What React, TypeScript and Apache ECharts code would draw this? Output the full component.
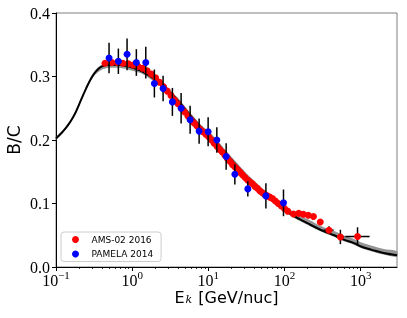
import React, { useEffect, useRef } from 'react';
import * as echarts from 'echarts';

// AMS-02 2016 B/C (kinetic energy per nucleon, GeV/nuc)
const amsE = [0.44, 0.54, 0.64, 0.755, 0.89, 1.03, 1.19, 1.37, 1.57, 1.79, 2.03, 2.29, 2.58, 2.89, 3.23, 3.6, 3.99, 4.42, 4.89, 5.38, 5.9, 6.47, 7.09, 7.76, 8.48, 9.26, 10.1, 11.0, 11.9, 13.0, 14.1, 15.2, 16.5, 17.8, 19.3, 20.8, 22.5, 24.3, 26.2, 28.2, 30.4, 32.7, 35.2, 37.9, 40.8, 43.9, 47.3, 51.1, 55.1, 59.3, 64.1, 69.6, 75.8, 82.8, 90.8, 99.8, 110, 131, 154, 177, 205, 240, 295, 384, 542, 910];
const amsBC = [0.321, 0.322, 0.322, 0.321, 0.32, 0.318, 0.316, 0.313, 0.309, 0.304, 0.298, 0.291, 0.284, 0.277, 0.27, 0.263, 0.257, 0.25, 0.244, 0.238, 0.232, 0.227, 0.222, 0.217, 0.213, 0.209, 0.205, 0.2, 0.195, 0.19, 0.185, 0.181, 0.176, 0.171, 0.166, 0.161, 0.157, 0.153, 0.149, 0.145, 0.141, 0.137, 0.134, 0.131, 0.127, 0.124, 0.12, 0.117, 0.114, 0.112, 0.11, 0.108, 0.104, 0.1, 0.096, 0.092, 0.088, 0.0835, 0.0845, 0.083, 0.0815, 0.0795, 0.071, 0.058, 0.0473, 0.048];
const amsErr = [0.003, 0.003, 0.003, 0.003, 0.003, 0.003, 0.003, 0.003, 0.003, 0.003, 0.003, 0.003, 0.003, 0.003, 0.003, 0.003, 0.003, 0.003, 0.003, 0.003, 0.003, 0.003, 0.003, 0.003, 0.003, 0.003, 0.003, 0.003, 0.003, 0.003, 0.003, 0.003, 0.003, 0.003, 0.003, 0.003, 0.003, 0.003, 0.003, 0.003, 0.003, 0.003, 0.003, 0.003, 0.003, 0.003, 0.003, 0.003, 0.003, 0.003, 0.003, 0.003, 0.003, 0.003, 0.003, 0.003, 0.003, 0.003, 0.003, 0.003, 0.003, 0.003, 0.004, 0.006, 0.0113, 0.0145];
// energy bin edges of the last three AMS-02 points
const amsLastBins = [[325, 441], [488, 608], [628, 1309]];

// PAMELA 2014 B/C
const pamE = [0.497, 0.659, 0.857, 1.135, 1.509, 1.957, 2.547, 3.374, 4.392, 5.766, 7.57, 9.94, 12.93, 17.14, 22.3, 33.0, 57.0, 97.0];
const pamBC = [0.329, 0.324, 0.335, 0.322, 0.322, 0.289, 0.281, 0.26, 0.25, 0.232, 0.214, 0.213, 0.2, 0.174, 0.146, 0.123, 0.112, 0.101];
const pamErr = [0.024, 0.02, 0.025, 0.021, 0.025, 0.022, 0.02, 0.022, 0.024, 0.022, 0.02, 0.023, 0.02, 0.021, 0.016, 0.012, 0.02, 0.021];

// model prediction and its uncertainty band
const modelE = [0.1, 0.118, 0.135, 0.15, 0.166, 0.184, 0.202, 0.225, 0.248, 0.275, 0.303, 0.335, 0.371, 0.41, 0.454, 0.55, 0.7, 0.85, 1.0, 1.3, 1.6, 2.0, 2.5, 3.0, 4.0, 5.0, 6.5, 8.0, 10, 13, 16, 20, 25, 32, 40, 50, 65, 80, 100, 130, 160, 200, 270, 350, 450, 600, 800, 1050, 1400, 2000, 3000];
const modelBC = [0.2024, 0.211, 0.2192, 0.2265, 0.2349, 0.2452, 0.2565, 0.2696, 0.281, 0.2922, 0.301, 0.308, 0.3133, 0.3163, 0.3179, 0.3186, 0.3182, 0.3165, 0.314, 0.309, 0.303, 0.295, 0.286, 0.277, 0.262, 0.248, 0.232, 0.22, 0.209, 0.195, 0.182, 0.169, 0.156, 0.142, 0.131, 0.12, 0.108, 0.099, 0.09, 0.081, 0.075, 0.069, 0.061, 0.055, 0.05, 0.043, 0.038, 0.0315, 0.027, 0.022, 0.0185];
const bandBelow = [0.002, 0.002, 0.002, 0.002, 0.002, 0.002, 0.002, 0.002, 0.002, 0.002, 0.003, 0.004, 0.005, 0.005, 0.005, 0.005, 0.005, 0.005, 0.005, 0.004, 0.004, 0.004, 0.004, 0.004, 0.004, 0.004, 0.004, 0.004, 0.004, 0.003, 0.003, 0.003, 0.003, 0.003, 0.003, 0.003, 0.003, 0.0025, 0.0025, 0.0025, 0.0025, 0.0025, 0.0025, 0.0025, 0.0025, 0.0025, 0.0025, 0.0025, 0.0025, 0.0025, 0.0025];
const bandAbove = [0.002, 0.002, 0.002, 0.002, 0.002, 0.002, 0.002, 0.002, 0.002, 0.002, 0.003, 0.003, 0.003, 0.003, 0.003, 0.003, 0.003, 0.003, 0.003, 0.004, 0.004, 0.004, 0.004, 0.004, 0.004, 0.004, 0.004, 0.004, 0.005, 0.005, 0.005, 0.005, 0.005, 0.005, 0.005, 0.005, 0.0055, 0.006, 0.006, 0.0065, 0.0065, 0.0065, 0.0065, 0.0065, 0.0065, 0.0065, 0.0065, 0.0065, 0.0065, 0.0065, 0.0065];

const xMajorTicks = [0.1, 1, 10, 100, 1000];
const xMinorTicks = [0.2, 0.3, 0.4, 0.5, 0.6, 0.7, 0.8, 0.9, 2, 3, 4, 5, 6, 7, 8, 9, 20, 30, 40, 50, 60, 70, 80, 90, 200, 300, 400, 500, 600, 700, 800, 900, 2000];

const SERIF = 'Liberation Serif';
const SANS = 'DejaVu Sans';

export default function App() {
  const ref = useRef<HTMLDivElement>(null);
  useEffect(() => {
    const chart = echarts.init(ref.current as HTMLDivElement, null, { renderer: 'svg' });
    const nA = amsE.length;
    const amsErrData = amsE.map((e, i) => {
      const k = i - (nA - amsLastBins.length);
      const xl = k >= 0 ? amsLastBins[k][0] : e;
      const xh = k >= 0 ? amsLastBins[k][1] : e;
      return [e, amsBC[i] - amsErr[i], amsBC[i] + amsErr[i], xl, xh, amsBC[i]];
    });
    const pamErrData = pamE.map((e, i) => [e, pamBC[i] - pamErr[i], pamBC[i] + pamErr[i], e, e, pamBC[i]]);
    const errRender = (params: any, api: any) => {
      const x = api.value(0);
      const y = api.value(5);
      const a = api.coord([x, api.value(1)]);
      const b = api.coord([x, api.value(2)]);
      const c = api.coord([api.value(3), y]);
      const d = api.coord([api.value(4), y]);
      const st = { stroke: '#000', lineWidth: 1.5 };
      return {
        type: 'group',
        children: [
          { type: 'line', shape: { x1: a[0], y1: a[1], x2: b[0], y2: b[1] }, style: st },
          { type: 'line', shape: { x1: c[0], y1: c[1], x2: d[0], y2: d[1] }, style: st },
        ],
      };
    };
    const bandRender = (params: any, api: any) => {
      const upper = modelE.map((e, i) => api.coord([e, modelBC[i] + bandAbove[i]]));
      const lower = modelE.map((e, i) => api.coord([e, modelBC[i] - bandBelow[i]])).reverse();
      return {
        type: 'polygon',
        shape: { points: upper.concat(lower), smooth: 0.3 },
        style: { fill: '#8e8e8e', opacity: 0.95 },
      };
    };
    const option: any = {
      animation: false,
      grid: {
        left: 56, top: 13, right: 10, bottom: 51,
        containLabel: false, outerBoundsMode: 'none',
        show: true, borderColor: '#7f7f7f', borderWidth: 1, backgroundColor: 'transparent',
      },
      legend: {
        orient: 'vertical',
        left: 61,
        top: 232,
        padding: [2, 8, 2, 11],
        itemWidth: 22,
        itemHeight: 7,
        itemGap: 3.5,
        icon: 'circle',
        data: ['AMS-02 2016', 'PAMELA 2014'],
        backgroundColor: 'rgba(255,255,255,0.8)',
        borderColor: '#cccccc',
        borderWidth: 1,
        borderRadius: 3,
        textStyle: { fontFamily: SANS, fontSize: 9, color: '#000', lineHeight: 11 },
      },
      xAxis: [
        {
          type: 'log',
          logBase: 10,
          min: 0.1,
          max: 3000,
          position: 'bottom',
          axisLine: { show: true, lineStyle: { color: '#000', width: 1 } },
          axisTick: { show: true, length: 4, lineStyle: { color: '#000', width: 1 }, customValues: xMajorTicks },
          splitLine: { show: false },
          axisLabel: {
            customValues: xMajorTicks,
            margin: 5,
            formatter: (v: number) => {
              const p = Math.round(Math.log10(v));
              return '{b|10}{s|' + (p < 0 ? '\u2212' + -p : String(p)) + '}';
            },
            rich: {
              b: { fontFamily: SERIF, fontSize: 16, color: '#000', lineHeight: 16, verticalAlign: 'bottom' },
              s: { fontFamily: SERIF, fontSize: 11, color: '#000', lineHeight: 11, verticalAlign: 'bottom', padding: [0, 0, 8, 0] },
            },
          },
          name: '{a|E}{k|k}{a| [GeV/nuc]}',
          nameLocation: 'middle',
          nameGap: 22,
          nameMoveOverlap: false,
          nameTextStyle: {
            rich: {
              a: { fontFamily: SANS, fontSize: 16, color: '#000', lineHeight: 16, verticalAlign: 'bottom' },
              k: { fontFamily: 'DejaVu Serif', fontStyle: 'italic', fontSize: 11, color: '#000', lineHeight: 11, verticalAlign: 'bottom', padding: [14, 1, 0, 1] },
            },
          },
        },
        {
          type: 'log',
          logBase: 10,
          min: 0.1,
          max: 3000,
          position: 'bottom',
          axisLine: { show: false },
          axisLabel: { show: false },
          splitLine: { show: false },
          axisTick: { show: true, length: 2, lineStyle: { color: '#000', width: 0.8 }, customValues: xMinorTicks },
        },
      ],
      yAxis: {
        type: 'value',
        min: 0,
        max: 0.4,
        interval: 0.1,
        axisLine: { show: true, lineStyle: { color: '#000', width: 1 } },
        axisTick: { show: true, length: 4, lineStyle: { color: '#000', width: 1 } },
        splitLine: { show: false },
        axisLabel: { fontFamily: SERIF, fontSize: 16, lineHeight: 8, color: '#000', margin: 6, formatter: (v: number) => v.toFixed(1) },
        name: 'B/C',
        nameLocation: 'middle',
        nameGap: 34,
        nameMoveOverlap: false,
        nameTextStyle: { fontFamily: SANS, fontSize: 17, color: '#000' },
      },
      series: [
        { type: 'custom', name: 'band', z: 1, silent: true, renderItem: bandRender, data: [[modelE[0], modelBC[0]]], encode: { x: 0, y: 1 } },
        {
          type: 'line', name: 'model', z: 2, showSymbol: false, symbol: 'none', smooth: 0.4,
          lineStyle: { color: '#000', width: 2 },
          data: modelE.map((e, i) => [e, modelBC[i]]),
        },
        { type: 'custom', name: 'amsErr', z: 3, renderItem: errRender, data: amsErrData, encode: { x: 0, y: 5 } },
        {
          type: 'scatter', name: 'AMS-02 2016', z: 4, symbol: 'circle', symbolSize: 7,
          itemStyle: { color: '#ff0000', opacity: 1 },
          data: amsE.map((e, i) => [e, amsBC[i]]),
        },
        { type: 'custom', name: 'pamErr', z: 5, renderItem: errRender, data: pamErrData, encode: { x: 0, y: 5 } },
        {
          type: 'scatter', name: 'PAMELA 2014', z: 6, symbol: 'circle', symbolSize: 7,
          itemStyle: { color: '#0000ff', opacity: 1 },
          data: pamE.map((e, i) => [e, pamBC[i]]),
        },
      ],
    };
    chart.setOption(option);
    return () => chart.dispose();
  }, []);
  return <div ref={ref} style={{ position: 'fixed', left: 0, top: 0, width: 407, height: 318 }} />;
}
